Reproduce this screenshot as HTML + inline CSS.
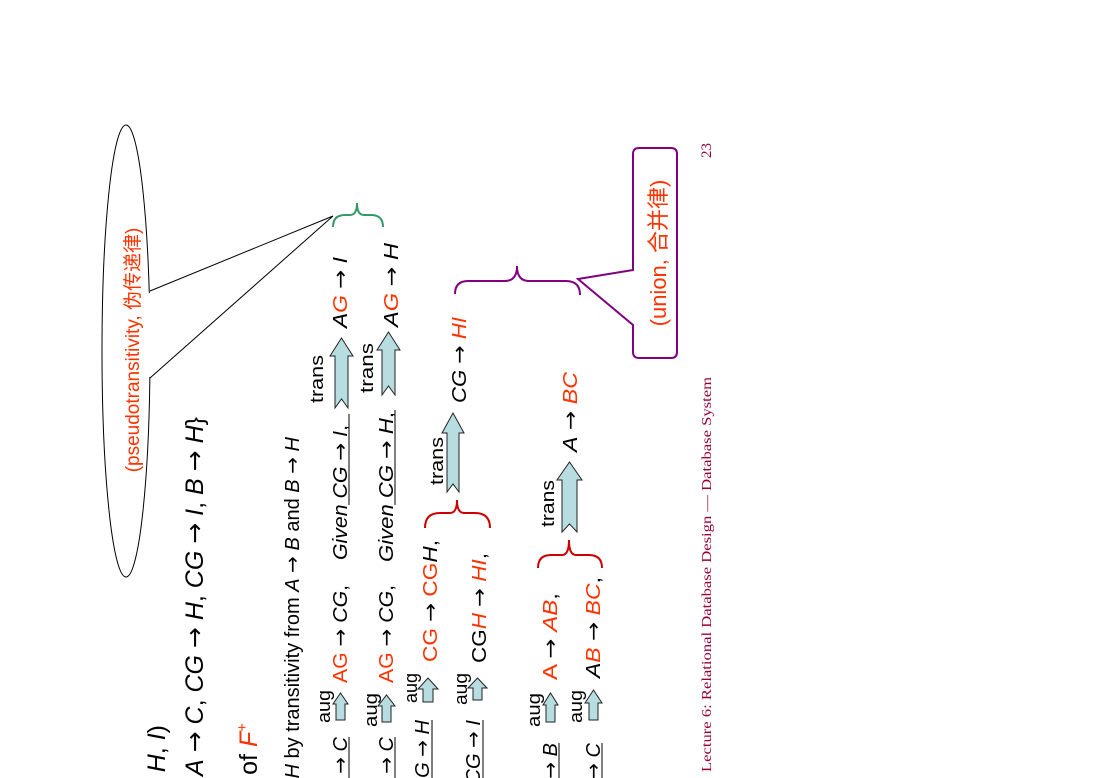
<!DOCTYPE html>
<html><head><meta charset="utf-8"><style>
html,body{margin:0;padding:0;background:#fff;width:1100px;height:778px;overflow:hidden}
svg{display:block}
text{font-family:"Liberation Sans","Noto Sans CJK SC",sans-serif}
.r{fill:#ff3300}
.i{font-style:italic}
.a{font-family:"DejaVu Sans",sans-serif;font-style:normal}
</style></head><body>
<svg width="1100" height="778" viewBox="0 0 1100 778" xmlns="http://www.w3.org/2000/svg">
<defs>
<style>.arr{fill:#b7dde0;stroke:#222;stroke-width:1}</style>
</defs>

<!-- Ellipse callout -->
<ellipse cx="126" cy="351" rx="24" ry="226" fill="none" stroke="#000" stroke-width="1"/>
<rect x="140" y="293" width="20" height="84" fill="#fff"/>
<polyline points="150,291 333,216 150,378" fill="none" stroke="#000" stroke-width="1"/>
<text transform="translate(139,350) rotate(-90)" text-anchor="middle" font-size="19" class="r">(pseudotransitivity, 伪传递律)</text>

<!-- Green brace -->
<path d="M333,227 Q333,215 345,215 L350,215 Q357,215 357,203 Q357,215 364,215 L371,215 Q383,215 383,227" fill="none" stroke="#339966" stroke-width="2"/>

<!-- Headings -->
<text transform="translate(165,725) rotate(-90)" text-anchor="end" font-size="25"><tspan class="i">R</tspan> = (<tspan class="i">A</tspan>, <tspan class="i">B</tspan>, <tspan class="i">C</tspan>, <tspan class="i">G</tspan>, <tspan class="i">H</tspan>, <tspan class="i">I</tspan>)</text>
<text transform="translate(203,417) rotate(-90)" text-anchor="end" font-size="25"><tspan class="i">F</tspan> = {<tspan class="i">A</tspan> <tspan class="a">→</tspan> <tspan class="i">B</tspan>, <tspan class="i">A</tspan> <tspan class="a">→</tspan> <tspan class="i">C</tspan>, <tspan class="i">CG</tspan> <tspan class="a">→</tspan> <tspan class="i">H</tspan>, <tspan class="i">CG</tspan> <tspan class="a">→</tspan> <tspan class="i">I</tspan>, <tspan class="i">B</tspan> <tspan class="a">→</tspan> <tspan class="i">H</tspan>}</text>
<text transform="translate(257,723) rotate(-90)" text-anchor="end" font-size="25">Some members of <tspan class="r i">F</tspan><tspan class="r" font-size="15" dy="-10">+</tspan></text>
<text transform="translate(299,437) rotate(-90)" text-anchor="end" font-size="20">• <tspan class="i">A</tspan> <tspan class="a">→</tspan> <tspan class="i">H</tspan> by transitivity from <tspan class="i">A</tspan> <tspan class="a">→</tspan> <tspan class="i">B</tspan> and <tspan class="i">B</tspan> <tspan class="a">→</tspan> <tspan class="i">H</tspan></text>

<!-- Row 1 -->
<text transform="translate(347,737) rotate(-90)" text-anchor="end" font-size="20">• <tspan class="i">AG</tspan> <tspan class="a">→</tspan> <tspan class="i">I</tspan> by augmenting <tspan class="i">A</tspan> <tspan class="a">→</tspan> <tspan class="i">C</tspan></text>
<line x1="349" y1="778" x2="349" y2="737" stroke="#000"/>
<text transform="translate(330,723) rotate(-90)" font-size="18" textLength="33" lengthAdjust="spacingAndGlyphs">aug</text>
<polygon class="arr" points="336,720 345,720 345,704 348,704 340.5,693 333,704 336,704"/>
<text transform="translate(347,683) rotate(-90)" font-size="20" textLength="98" lengthAdjust="spacingAndGlyphs"><tspan class="r">AG</tspan> <tspan class="a">→</tspan> <tspan class="i">CG</tspan>,</text>
<text transform="translate(347,560) rotate(-90)" font-size="20" textLength="135" lengthAdjust="spacingAndGlyphs"><tspan class="i">Given</tspan> <tspan class="i">CG</tspan> <tspan class="a">→</tspan> <tspan class="i">I</tspan>,</text>
<line x1="349" y1="505" x2="349" y2="414" stroke="#000"/>
<text transform="translate(323,403) rotate(-90)" font-size="18" textLength="48" lengthAdjust="spacingAndGlyphs">trans</text>
<polygon class="arr" points="335,408 341.5,399 348,408 348,356 353,356 341.5,338 330,356 335,356"/>
<text transform="translate(347,328) rotate(-90)" font-size="20" textLength="71" lengthAdjust="spacingAndGlyphs"><tspan class="i">A</tspan><tspan class="r i">G</tspan> <tspan class="a">→</tspan> <tspan class="i">I</tspan></text>

<!-- Row 2 -->
<text transform="translate(393,737) rotate(-90)" text-anchor="end" font-size="20">• <tspan class="i">AG</tspan> <tspan class="a">→</tspan> <tspan class="i">H</tspan> by augmenting <tspan class="i">A</tspan> <tspan class="a">→</tspan> <tspan class="i">C</tspan></text>
<line x1="395" y1="778" x2="395" y2="737" stroke="#000"/>
<text transform="translate(377,727) rotate(-90)" font-size="18" textLength="34" lengthAdjust="spacingAndGlyphs">aug</text>
<polygon class="arr" points="382,722 391,722 391,706 395,706 386.5,695 378,706 382,706"/>
<text transform="translate(393,683) rotate(-90)" font-size="20" textLength="98" lengthAdjust="spacingAndGlyphs"><tspan class="r">AG</tspan> <tspan class="a">→</tspan> <tspan class="i">CG</tspan>,</text>
<text transform="translate(393,562) rotate(-90)" font-size="20" textLength="150" lengthAdjust="spacingAndGlyphs"><tspan class="i">Given</tspan> <tspan class="i">CG</tspan> <tspan class="a">→</tspan> <tspan class="i">H</tspan>,</text>
<line x1="395" y1="505" x2="395" y2="410" stroke="#000"/>
<text transform="translate(373,393) rotate(-90)" font-size="18" textLength="50" lengthAdjust="spacingAndGlyphs">trans</text>
<polygon class="arr" points="382,395 388.5,386 395,395 395,350 400,350 388.5,332 377,350 382,350"/>
<text transform="translate(398,327) rotate(-90)" font-size="20" textLength="84" lengthAdjust="spacingAndGlyphs"><tspan class="i">A</tspan><tspan class="r i">G</tspan> <tspan class="a">→</tspan> <tspan class="i">H</tspan></text>

<!-- Row 3 -->
<text transform="translate(429,720) rotate(-90)" text-anchor="end" font-size="20">• <tspan class="i">CG</tspan> <tspan class="a">→</tspan> <tspan class="i">HI</tspan> by augmenting <tspan class="i">CG</tspan> <tspan class="a">→</tspan> <tspan class="i">H</tspan></text>
<line x1="432" y1="778" x2="432" y2="720" stroke="#000"/>
<text transform="translate(417,703) rotate(-90)" font-size="18" textLength="30" lengthAdjust="spacingAndGlyphs">aug</text>
<polygon class="arr" points="423,702 433,702 433,689 438,689 428,678 418,689 423,689"/>
<text transform="translate(437,662) rotate(-90)" font-size="20" textLength="122" lengthAdjust="spacingAndGlyphs"><tspan class="r">CG</tspan> <tspan class="a">→</tspan> <tspan class="r">CG</tspan><tspan class="i">H</tspan>,</text>
<path d="M425,528 Q425,513 440,513 L450,513 Q457,513 457,500 Q457,513 464,513 L475,513 Q490,513 490,528" fill="none" stroke="#cc0000" stroke-width="2"/>
<text transform="translate(443,485) rotate(-90)" font-size="18" textLength="48" lengthAdjust="spacingAndGlyphs">trans</text>
<polygon class="arr" points="447,492 453,484 459,492 459,433 464,433 453,413 442,433 447,433"/>
<text transform="translate(466,403) rotate(-90)" font-size="20" textLength="86" lengthAdjust="spacingAndGlyphs"><tspan class="i">CG</tspan> <tspan class="a">→</tspan> <tspan class="r i">HI</tspan></text>

<!-- Row 4 -->
<text transform="translate(480,720) rotate(-90)" text-anchor="end" font-size="20">by augmenting <tspan class="i">CG</tspan> <tspan class="a">→</tspan> <tspan class="i">I</tspan></text>
<line x1="483" y1="778" x2="483" y2="720" stroke="#000"/>
<text transform="translate(467,705) rotate(-90)" font-size="18" textLength="32" lengthAdjust="spacingAndGlyphs">aug</text>
<polygon class="arr" points="473,700 482,700 482,688 487,688 477.5,678 468,688 473,688"/>
<text transform="translate(486,663) rotate(-90)" font-size="20" textLength="110" lengthAdjust="spacingAndGlyphs">CG<tspan class="r i">H</tspan> <tspan class="a">→</tspan> <tspan class="r i">HI</tspan>,</text>

<!-- Row 5 -->
<text transform="translate(557,743) rotate(-90)" text-anchor="end" font-size="20">• <tspan class="i">A</tspan> <tspan class="a">→</tspan> <tspan class="i">BC</tspan> by augmenting <tspan class="i">A</tspan> <tspan class="a">→</tspan> <tspan class="i">B</tspan></text>
<line x1="559" y1="778" x2="559" y2="743" stroke="#000"/>
<text transform="translate(540,727) rotate(-90)" font-size="18" textLength="34" lengthAdjust="spacingAndGlyphs">aug</text>
<polygon class="arr" points="546,722 555,722 555,705 558,705 550.5,693 543,705 546,705"/>
<text transform="translate(557,680) rotate(-90)" font-size="20" textLength="87" lengthAdjust="spacingAndGlyphs"><tspan class="r">A</tspan> <tspan class="a">→</tspan> <tspan class="r i">AB</tspan>,</text>
<path d="M538,568 Q538,555 551,555 L562,555 Q569,555 569,540 Q569,555 576,555 L589,555 Q602,555 602,568" fill="none" stroke="#cc0000" stroke-width="2"/>
<text transform="translate(554,527) rotate(-90)" font-size="18" textLength="47" lengthAdjust="spacingAndGlyphs">trans</text>
<polygon class="arr" points="562,532 569.5,524 577,532 577,480 582,480 569.5,462 557,480 562,480"/>
<text transform="translate(577,452) rotate(-90)" font-size="20" textLength="80" lengthAdjust="spacingAndGlyphs"><tspan class="i">A</tspan> <tspan class="a">→</tspan> <tspan class="r i">BC</tspan></text>

<!-- Row 6 -->
<text transform="translate(600,743) rotate(-90)" text-anchor="end" font-size="20">by augmenting <tspan class="i">A</tspan> <tspan class="a">→</tspan> <tspan class="i">C</tspan></text>
<line x1="602" y1="778" x2="602" y2="743" stroke="#000"/>
<text transform="translate(582,723) rotate(-90)" font-size="18" textLength="33" lengthAdjust="spacingAndGlyphs">aug</text>
<polygon class="arr" points="589,720 598,720 598,703 602,703 593.5,690 585,703 589,703"/>
<text transform="translate(600,678) rotate(-90)" font-size="20" textLength="101" lengthAdjust="spacingAndGlyphs"><tspan class="i">A</tspan><tspan class="r i">B</tspan> <tspan class="a">→</tspan> <tspan class="r i">BC</tspan>,</text>

<!-- Purple brace + union callout -->
<path d="M455,294 Q455,281 468,281 L505,281 Q517,281 517,266 Q517,281 529,281 L566,281 Q580,281 580,295" fill="none" stroke="#800080" stroke-width="2"/>
<path d="M633,270 L578,279 L633,325 L633,352 Q633,358 639,358 L671,358 Q677,358 677,352 L677,154 Q677,148 671,148 L639,148 Q633,148 633,154 Z" fill="#fff" stroke="#800080" stroke-width="2"/>
<text transform="translate(666,253) rotate(-90)" text-anchor="middle" font-size="22" class="r">(union, 合并律)</text>

<!-- Footer -->
<text transform="translate(711,772) rotate(-90)" font-size="14" fill="#990033" textLength="395" lengthAdjust="spacingAndGlyphs" style="font-family:'Liberation Serif',serif">Lecture 6: Relational Database Design — Database System</text>
<text transform="translate(711,158) rotate(-90)" font-size="15" fill="#990033" style="font-family:'Liberation Serif',serif">23</text>
</svg>
</body></html>
